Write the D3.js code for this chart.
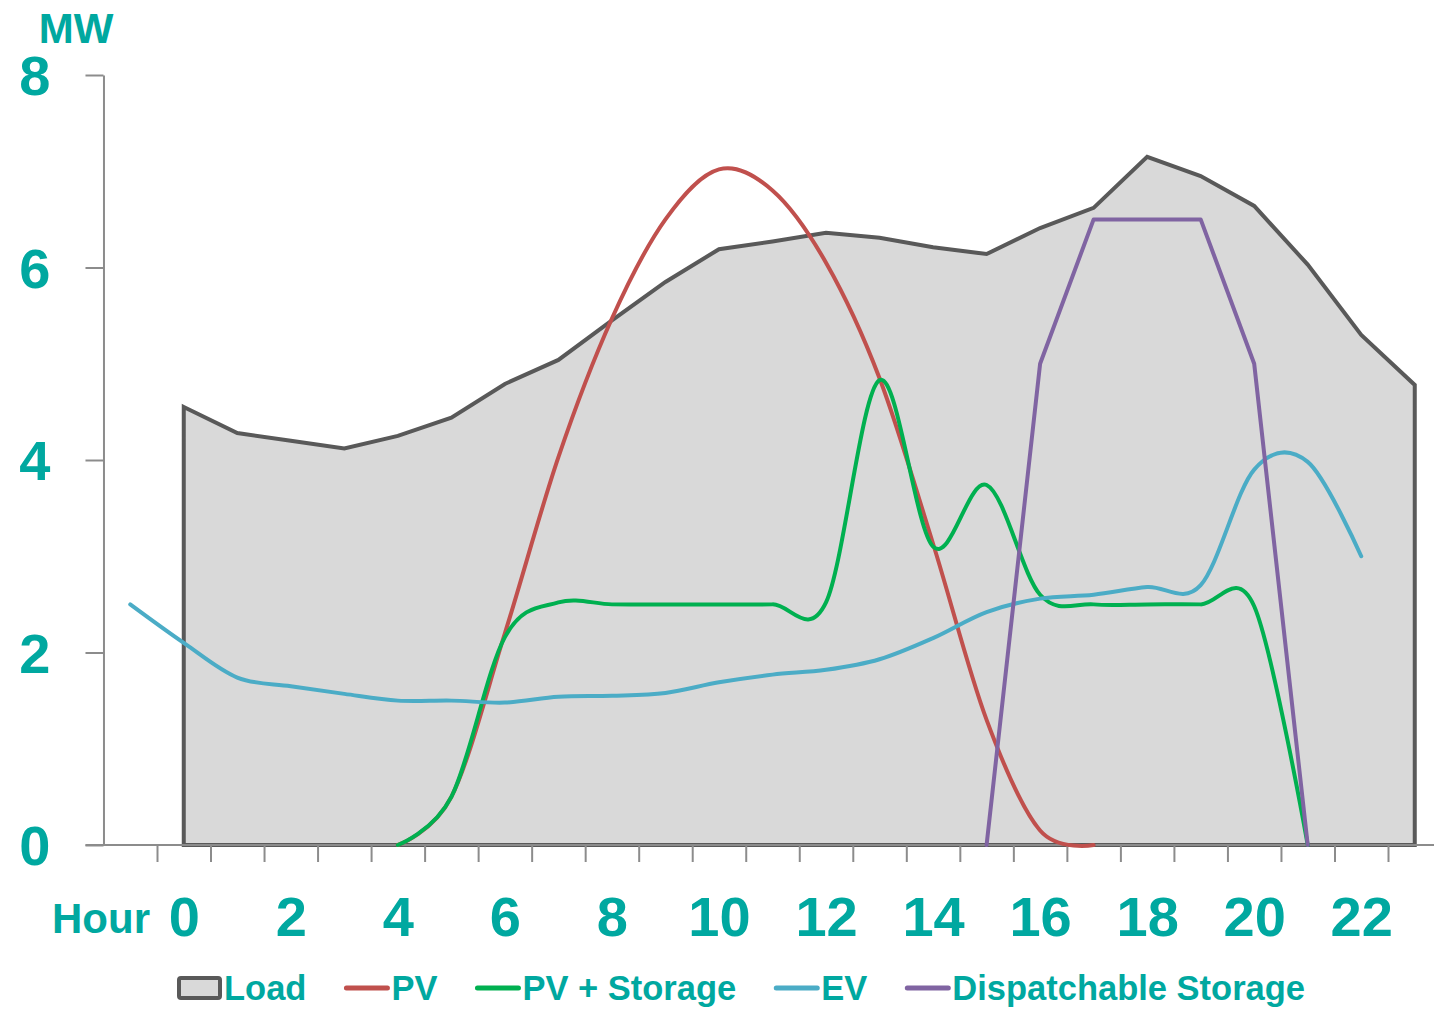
<!DOCTYPE html>
<html>
<head>
<meta charset="utf-8">
<script src="https://cdn.jsdelivr.net/npm/d3@7"></script>
<style>
  body { margin: 0; background: #fff; }
  svg text { font-family: "Liberation Sans", Arial, sans-serif; font-weight: bold; fill: #00a8a0; }
</style>
</head>
<body>
<div id="chart"></div>
<script>
// Hours of the day (category axis). -1 is the unlabeled slot left of hour 0.
const hours = [-1, 0, 1, 2, 3, 4, 5, 6, 7, 8, 9, 10, 11, 12, 13, 14, 15, 16, 17, 18, 19, 20, 21, 22, 23];
const hourLabels = [0, 2, 4, 6, 8, 10, 12, 14, 16, 18, 20, 22];
const yTicks = [0, 2, 4, 6, 8];

// Series values in MW, one per hour above (null = no value)
const load = [null, 4.55, 4.28, 4.2, 4.12, 4.25, 4.44, 4.79, 5.04, 5.45, 5.85, 6.19, 6.27,
  6.36, 6.31, 6.21, 6.14, 6.41, 6.62, 7.15, 6.95, 6.64, 6.03, 5.3, 4.78];
const pv = [null, null, null, null, null, 0, 0.5, 2.2, 4.03, 5.47, 6.5, 7.02, 6.8,
  6.05, 4.85, 3.13, 1.3, 0.15, 0, null, null, null, null, null, null];
const pvStorage = [null, null, null, null, null, 0, 0.5, 2.16, 2.52, 2.5, 2.5, 2.5, 2.5,
  2.52, 4.83, 3.1, 3.74, 2.6, 2.5, 2.5, 2.5, 2.48, 0, null, null];
const ev = [2.5, 2.1, 1.74, 1.65, 1.57, 1.5, 1.5, 1.48, 1.54, 1.55, 1.58, 1.69, 1.77,
  1.82, 1.93, 2.15, 2.42, 2.56, 2.6, 2.68, 2.7, 3.9, 3.98, 3.0, null];
const dispatchable = [null, null, null, null, null, null, null, null, null, null, null, null, null,
  null, null, null, 0, 5.0, 6.5, 6.5, 6.5, 5.0, 0, null, null];

const width = 1434;
const height = 1009;
const teal = '#00a8a0';
const axisColor = '#8c8c8c';

const svg = d3.select('#chart')
  .append('svg')
  .attr('width', width)
  .attr('height', height);

const x = d3.scaleLinear().domain([-0.5, 22.5]).range([157, 1388]);
const y = d3.scaleLinear().domain([0, 8]).range([845, 75]);

// Load area (outlined polygon down to zero)
const loadData = hours.map((h, i) => ({ h, v: load[i] })).filter(d => d.v != null);
const area = d3.area()
  .x(d => x(d.h))
  .y0(y(0))
  .y1(d => y(d.v));

svg.append('path')
  .datum(loadData)
  .attr('d', area)
  .attr('fill', '#d9d9d9')
  .attr('stroke', '#595959')
  .attr('stroke-width', 4)
  .attr('stroke-linejoin', 'miter');

// Axes
const yAxis = d3.axisLeft(y)
  .tickValues(yTicks)
  .tickSize(18)
  .tickSizeOuter(0)
  .tickPadding(35)
  .tickFormat(d3.format('d'));

const gy = svg.append('g')
  .attr('transform', `translate(${x(-1.5)},0)`)
  .call(yAxis);
gy.select('.domain').attr('stroke', axisColor).attr('stroke-width', 2);
gy.selectAll('.tick line').attr('stroke', axisColor).attr('stroke-width', 2);
gy.selectAll('.tick text')
  .attr('fill', teal)
  .style('font-size', '56px')
  .attr('dy', '0.35em');

// X axis line across whole width and boundary ticks
svg.append('line')
  .attr('x1', x(-1.5) - 18).attr('x2', width)
  .attr('y1', y(0)).attr('y2', y(0))
  .attr('stroke', axisColor).attr('stroke-width', 2);

const boundaries = hours.slice(1).map(h => h - 0.5);
const xTicks = d3.axisBottom(x)
  .tickValues(boundaries)
  .tickSize(17)
  .tickFormat('');
const gx = svg.append('g')
  .attr('transform', `translate(0,${y(0)})`)
  .call(xTicks);
gx.select('.domain').remove();
gx.selectAll('.tick line').attr('stroke', axisColor).attr('stroke-width', 2);

const xLabels = d3.axisBottom(x)
  .tickValues(hourLabels)
  .tickSize(0)
  .tickFormat(d3.format('d'));
const gxl = svg.append('g')
  .attr('transform', `translate(0,${y(0)})`)
  .call(xLabels);
gxl.select('.domain').remove();
gxl.selectAll('.tick text')
  .attr('fill', teal)
  .attr('y', 91)
  .attr('dy', 0)
  .style('font-size', '56px');

svg.append('text')
  .attr('x', 101)
  .attr('y', 933)
  .attr('text-anchor', 'middle')
  .style('font-size', '42px')
  .text('Hour');

svg.append('text')
  .attr('x', 76)
  .attr('y', 43)
  .attr('text-anchor', 'middle')
  .style('font-size', '42px')
  .text('MW');

// Series lines
const series = [
  { name: 'PV', values: pv, color: '#c0504d', smooth: true },
  { name: 'PV + Storage', values: pvStorage, color: '#00b050', smooth: true },
  { name: 'EV', values: ev, color: '#4bacc6', smooth: true },
  { name: 'Dispatchable Storage', values: dispatchable, color: '#8064a2', smooth: false }
];

series.forEach(s => {
  const line = d3.line()
    .defined(d => d.v != null)
    .x(d => x(d.h))
    .y(d => y(d.v))
    .curve(s.smooth ? d3.curveCardinal.tension(0) : d3.curveLinear);

  svg.append('path')
    .datum(hours.map((h, i) => ({ h, v: s.values[i] })))
    .attr('d', line)
    .attr('fill', 'none')
    .attr('stroke', s.color)
    .attr('stroke-width', 4)
    .attr('stroke-linecap', 'round')
    .attr('stroke-linejoin', 'round');
});

// Legend
const legend = svg.append('g').attr('transform', 'translate(177,988)');
let lx = 0;
const entries = [{ name: 'Load', box: true }].concat(series);

entries.forEach(e => {
  if (e.box) {
    legend.append('rect')
      .attr('x', lx + 2).attr('y', -10)
      .attr('width', 41).attr('height', 20)
      .attr('rx', 2)
      .attr('fill', '#d9d9d9')
      .attr('stroke', '#595959')
      .attr('stroke-width', 4);
  } else {
    legend.append('line')
      .attr('x1', lx + 2).attr('x2', lx + 43)
      .attr('y1', 0).attr('y2', 0)
      .attr('stroke', e.color)
      .attr('stroke-width', 5)
      .attr('stroke-linecap', 'round');
  }
  const t = legend.append('text')
    .attr('x', lx + 47)
    .attr('y', 12)
    .style('font-size', '34.5px')
    .text(e.name);
  lx += 47 + t.node().getComputedTextLength() + 38;
});
</script>
</body>
</html>
